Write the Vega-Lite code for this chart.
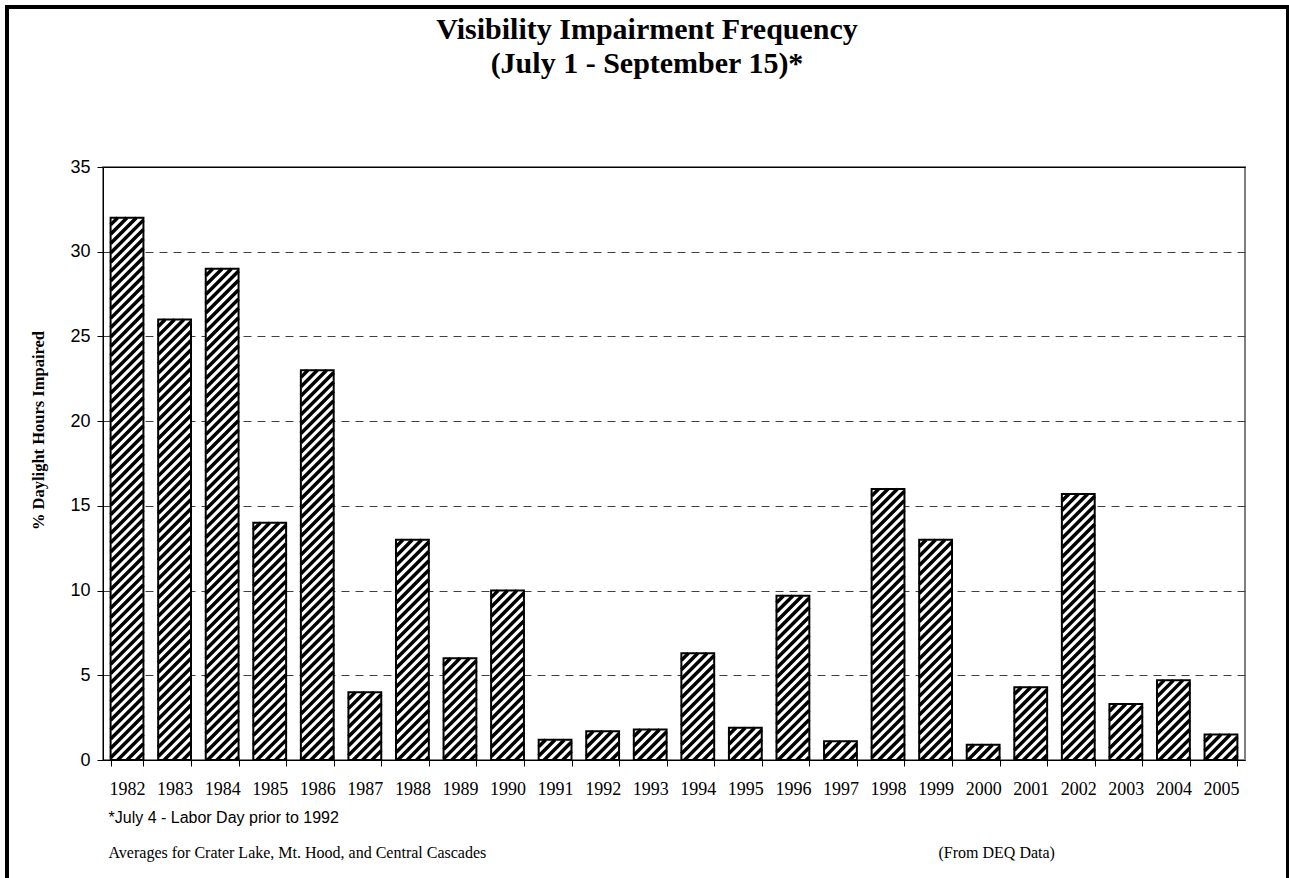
{
  "$schema": "https://vega.github.io/schema/vega-lite/v6.json",
  "width": 1142,
  "height": 593,
  "autosize": {"type": "none"},
  "padding": {"left": 103, "top": 167, "right": 44, "bottom": 118},
  "background": "white",
  "title": {
    "text": ["Visibility Impairment Frequency", "(July 1 - September 15)*"],
    "font": "Liberation Serif",
    "fontSize": 30,
    "fontWeight": "bold",
    "color": "black",
    "anchor": "middle",
    "frame": "group",
    "dx": -27,
    "offset": -72,
    "lineHeight": 34
  },
  "data": {
    "values": [
      {"year": "1982", "value": 32},
      {"year": "1983", "value": 26},
      {"year": "1984", "value": 29},
      {"year": "1985", "value": 14},
      {"year": "1986", "value": 23},
      {"year": "1987", "value": 4},
      {"year": "1988", "value": 13},
      {"year": "1989", "value": 6},
      {"year": "1990", "value": 10},
      {"year": "1991", "value": 1.2},
      {"year": "1992", "value": 1.7},
      {"year": "1993", "value": 1.8},
      {"year": "1994", "value": 6.3},
      {"year": "1995", "value": 1.9},
      {"year": "1996", "value": 9.7},
      {"year": "1997", "value": 1.1},
      {"year": "1998", "value": 16},
      {"year": "1999", "value": 13},
      {"year": "2000", "value": 0.9},
      {"year": "2001", "value": 4.3},
      {"year": "2002", "value": 15.7},
      {"year": "2003", "value": 3.3},
      {"year": "2004", "value": 4.7},
      {"year": "2005", "value": 1.5}
    ]
  },
  "layer": [
    {
      "mark": {"type": "bar", "fill": "white", "strokeWidth": 0},
      "encoding": {
        "x": {
          "field": "year",
          "type": "ordinal",
          "sort": null,
          "scale": {"type": "band", "paddingInner": 0.31, "paddingOuter": 0.16},
          "axis": {
            "orient": "bottom",
            "title": "*July 4 - Labor Day prior to 1992",
            "titleFont": "Liberation Sans",
            "titleFontSize": 16,
            "titleFontWeight": "normal",
            "titleColor": "black",
            "titleX": 5,
            "titleY": 57,
            "titleAlign": "left",
            "titleAnchor": "start",
            "titleBaseline": "middle",
            "labelAngle": 0,
            "labelFont": "Liberation Serif",
            "labelFontSize": 18,
            "labelColor": "black",
            "labelPadding": 14,
            "labelOverlap": false,
            "tickBand": "extent",
            "tickSize": 6,
            "tickColor": "black",
            "domainColor": "black",
            "grid": false
          }
        },
        "y": {
          "field": "value",
          "type": "quantitative",
          "scale": {"domain": [0, 35], "nice": false},
          "axis": {
            "values": [0, 5, 10, 15, 20, 25, 30, 35],
            "title": "% Daylight Hours Impaired",
            "titleFont": "Liberation Serif",
            "titleFontSize": 16.5,
            "titleFontWeight": "bold",
            "titleColor": "black",
            "titleAngle": -90,
            "titleX": -65,
            "titleY": 263,
            "titleAlign": "center",
            "titleBaseline": "middle",
            "labelFont": "Liberation Sans",
            "labelFontSize": 18,
            "labelColor": "black",
            "labelPadding": 7,
            "tickSize": 6,
            "tickColor": "black",
            "domainColor": "black",
            "grid": true,
            "gridColor": "#404040",
            "gridDash": [8, 6],
            "gridWidth": 1
          }
        }
      }
    },
    {
      "mark": {
        "type": "point",
        "shape": "M-0.57,0L-1,0.43M0,0L-1,1M0.57,0L-1,1.57M1,0.14L-1,2.14M1,0.71L-1,2.71M1,1.28L-1,3.28M1,1.85L-1,3.85M1,2.42L-1,4.42M1,2.99L-1,4.99M1,3.56L-1,5.56M1,4.13L-1,6.13M1,4.7L-1,6.7M1,5.27L-1,7.27M1,5.84L-1,7.84M1,6.41L-1,8.41M1,6.98L-1,8.98M1,7.55L-1,9.55M1,8.12L-1,10.12M1,8.69L-1,10.69M1,9.26L-1,11.26M1,9.83L-1,11.83M1,10.4L-1,12.4M1,10.97L-1,12.97M1,11.54L-1,13.54M1,12.11L-1,14.11M1,12.68L-1,14.68M1,13.25L-1,15.25M1,13.82L-1,15.82M1,14.39L-1,16.39M1,14.96L-1,16.96M1,15.53L-1,17.53M1,16.1L-1,18.1M1,16.67L-1,18.67M1,17.24L-1,19.24M1,17.81L-1,19.81M1,18.38L-1,20.38M1,18.95L-1,20.95M1,19.52L-1,21.52M1,20.09L-1,22.09M1,20.66L-1,22.66M1,21.23L-1,23.23M1,21.8L-1,23.8M1,22.37L-1,24.37M1,22.94L-1,24.94M1,23.51L-1,25.51M1,24.08L-1,26.08M1,24.65L-1,26.65M1,25.22L-1,27.22M1,25.79L-1,27.79M1,26.36L-1,28.36M1,26.93L-1,28.93M1,27.5L-1,29.5M1,28.07L-1,30.07M1,28.64L-1,30.64M1,29.21L-1,31.21M1,29.78L-1,31.78M1,30.35L-1,32.35M1,30.92L-1,32.92M1,31.49L-1,33.49M1,32.06L-1,34.06M1,32.63L-1,34.63M1,33.2L-1,35.2",
        "filled": false,
        "stroke": "black",
        "color": "black",
        "strokeWidth": 3.5,
        "size": 1076,
        "opacity": 1,
        "clip": true
      },
      "encoding": {
        "x": {
          "field": "year",
          "type": "ordinal",
          "sort": null,
          "scale": {"type": "band", "paddingInner": 0.31, "paddingOuter": 0.16},
          "axis": {
            "orient": "top",
            "title": "(From DEQ Data)",
            "titleFont": "Liberation Serif",
            "titleFontSize": 16,
            "titleFontWeight": "normal",
            "titleColor": "black",
            "titleX": 835,
            "titleY": 685,
            "titleAlign": "left",
            "titleAnchor": "start",
            "titleBaseline": "middle",
            "labels": false,
            "ticks": false,
            "grid": false,
            "domainColor": "black",
            "domainWidth": 1
          }
        },
        "y": {
          "field": "value",
          "type": "quantitative",
          "scale": {"domain": [0, 35], "nice": false},
          "axis": null
        }
      }
    },
    {
      "mark": {"type": "bar", "stroke": "black", "strokeWidth": 2},
      "encoding": {
        "x": {
          "field": "year",
          "type": "ordinal",
          "sort": null,
          "scale": {"type": "band", "paddingInner": 0.31, "paddingOuter": 0.16},
          "axis": {
            "orient": "bottom",
            "title": "Averages for Crater Lake, Mt. Hood, and Central Cascades",
            "titleFont": "Liberation Serif",
            "titleFontSize": 16,
            "titleFontWeight": "normal",
            "titleColor": "black",
            "titleX": 5,
            "titleY": 92,
            "titleAlign": "left",
            "titleAnchor": "start",
            "titleBaseline": "middle",
            "labels": false,
            "ticks": false,
            "domain": false,
            "grid": false
          }
        },
        "y": {
          "field": "value",
          "type": "quantitative",
          "scale": {"domain": [0, 35], "nice": false},
          "axis": null
        },
        "color": {
          "field": "value",
          "type": "quantitative",
          "scale": {"range": ["rgba(255,255,255,0)", "rgba(255,255,255,0)"]},
          "legend": {
            "orient": "none",
            "legendX": -96,
            "legendY": -160,
            "direction": "vertical",
            "title": null,
            "gradientLength": 900,
            "gradientThickness": 1281,
            "gradientStrokeColor": "black",
            "gradientStrokeWidth": 4,
            "labelOpacity": 0,
            "labelExpr": "''",
            "padding": 0,
            "offset": 0
          }
        }
      }
    }
  ],
  "resolve": {"axis": {"x": "independent", "y": "independent"}},
  "config": {
    "view": {"stroke": "#808080", "strokeWidth": 2},
    "axis": {"domainColor": "black", "tickColor": "black"}
  }
}
